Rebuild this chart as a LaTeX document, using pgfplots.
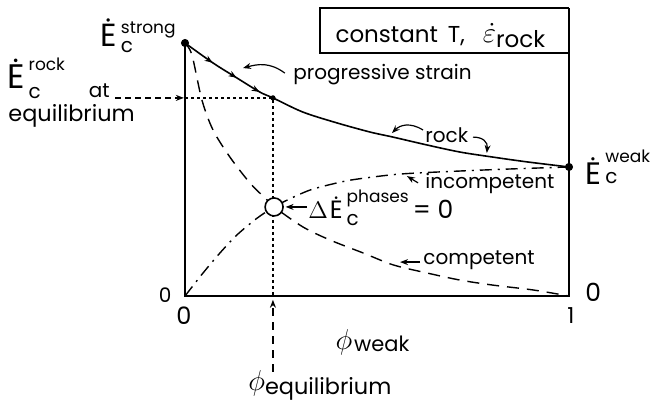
\documentclass[border=0pt]{standalone}
\usepackage{pgfplots}
\pgfplotsset{compat=1.18}
\usepackage{fontspec}
\setmainfont{Poppins}
\usetikzlibrary{arrows.meta,decorations.markings}

% E-dot with a sub- and superscript, sizes in pt
% #1 size of E, #2 superscript, #3 its raise, #4 subscript, #5 its raise
\newcommand{\Erate}[5]{%
  {\fontsize{#1}{#1}\selectfont\.{E}}\hspace{2pt}%
  \rlap{\raisebox{#3}{\fontsize{8.5}{9}\selectfont #2}}%
  \raisebox{#5}{\fontsize{10}{10}\selectfont #4}}

\begin{document}
\begin{tikzpicture}[>={Stealth[length=4pt,width=3pt]}]
\begin{axis}[
  scale only axis, width=328pt, height=204.5pt,
  xmin=-0.4818, xmax=1.2266, ymin=-0.4466, ymax=1.1700,
  hide axis, clip=false]

% frame: left, bottom and right sides, title box
\draw[line width=1.1pt] (axis cs:0,1) -- (axis cs:0,0) -- (axis cs:1,0) -- (axis cs:1,1.138);
\draw[line width=0.7pt] (axis cs:1,1.138) -- (axis cs:0.352,1.138) -- (axis cs:0.352,0.960) -- (axis cs:1,0.960);
\node[anchor=base west, font=\fontsize{11.5}{12}\selectfont, inner sep=0pt] at (axis cs:0.391,1.0)
  {constant\hspace{5pt}T,\hspace{9pt}{\fontsize{15}{15}\selectfont$\dot{\varepsilon}$}\raisebox{-2pt}{rock}};

% rock
\addplot[line width=0.8pt, smooth, postaction={decorate}, decoration={markings,
  mark=at position 0.083 with {\arrow{>}},
  mark=at position 0.152 with {\arrow{>}},
  mark=at position 0.218 with {\arrow{>}}}] coordinates {
  (0,1.0) (0.073,0.921) (0.135,0.862) (0.195,0.806) (0.229,0.783)
  (0.307,0.727) (0.396,0.684) (0.482,0.648) (0.542,0.628) (0.630,0.597)
  (0.716,0.569) (0.802,0.549) (0.891,0.530) (1.0,0.510)};
% competent
\addplot[line width=0.7pt, smooth, dash pattern=on 6pt off 4pt] coordinates {
  (0,1) (0.018,0.953) (0.044,0.775) (0.073,0.656) (0.117,0.549)
  (0.169,0.447) (0.214,0.379) (0.232,0.352) (0.307,0.273) (0.378,0.221)
  (0.464,0.170) (0.542,0.123) (0.630,0.091) (0.716,0.063) (0.802,0.043)
  (0.906,0.024) (1.0,0.0)};
% incompetent
\addplot[line width=0.7pt, smooth, dash pattern=on 6pt off 3pt on 1pt off 3pt] coordinates {
  (0,0) (0.047,0.091) (0.091,0.170) (0.135,0.241) (0.188,0.308)
  (0.232,0.352) (0.266,0.379) (0.326,0.419) (0.396,0.447) (0.448,0.462)
  (0.560,0.482) (0.716,0.494) (0.846,0.502) (1.0,0.510)};

% equilibrium guides
\draw[line width=0.7pt, dash pattern=on 1.5pt off 1.5pt] (axis cs:0,0.783) -- (axis cs:0.229,0.783) -- (axis cs:0.229,0);
\draw[line width=0.7pt, dash pattern=on 3pt off 2pt, ->] (axis cs:-0.182,0.783) -- (axis cs:-0.003,0.783);
\draw[line width=0.7pt, dash pattern=on 4pt off 3pt, ->] (axis cs:0.229,-0.300) -- (axis cs:0.229,-0.015);

% points
\addplot[only marks, mark=*, mark size=1.8pt] coordinates {(0,1) (1,0.510)};
\addplot[only marks, mark=*, mark size=1.1pt] coordinates {(0.229,0.783)};
\addplot[only marks, mark=*, mark size=4.5pt, mark options={fill=white, draw=black, line width=0.8pt}]
  coordinates {(0.232,0.352)};

% labels
\node[anchor=base west, inner sep=0pt] at (axis cs:-0.221,0.985)
  {\Erate{16}{strong}{6.5pt}{c}{-3pt}};
\node[anchor=base west, inner sep=0pt] at (axis cs:-0.464,0.822)
  {\Erate{17}{rock}{9pt}{c}{-5pt}\hspace{24pt}\raisebox{-4.5pt}{\fontsize{10}{10}\selectfont at}};
\node[anchor=base west, inner sep=0pt, font=\fontsize{11.2}{12}\selectfont] at (axis cs:-0.461,0.688) {equilibrium};
\node[anchor=base west, inner sep=0pt] at (axis cs:1.042,0.439)
  {\Erate{15.5}{weak}{11pt}{c}{0.5pt}};
\node[anchor=base west, inner sep=0pt] at (axis cs:0.320,0.308)
  {{\fontsize{12}{12}\selectfont$\Delta$}\hspace{1pt}\Erate{12.5}{phases}{8pt}{c}{-3.5pt}\hspace{27pt}{\fontsize{12.5}{12}\selectfont= 0}};

\node[anchor=base west, inner sep=0pt, font=\fontsize{10}{12}\selectfont] at (axis cs:0.281,0.854) {progressive strain};
\node[anchor=base west, inner sep=0pt, font=\fontsize{10}{12}\selectfont] at (axis cs:0.625,0.605) {rock};
\node[anchor=base west, inner sep=0pt, font=\fontsize{10}{12}\selectfont] at (axis cs:0.625,0.425) {incompetent};
\node[anchor=base west, inner sep=0pt, font=\fontsize{10}{12}\selectfont] at (axis cs:0.620,0.126) {competent};

\node[font=\fontsize{10}{10}\selectfont] at (axis cs:-0.052,0.004) {0};
\node[font=\fontsize{12}{12}\selectfont] at (axis cs:-0.003,-0.079) {0};
\node[font=\fontsize{11}{11}\selectfont] at (axis cs:1.005,-0.079) {1};
\node[font=\fontsize{12.5}{12}\selectfont] at (axis cs:1.063,0.016) {0};

\node[anchor=base west, inner sep=0pt] at (axis cs:0.391,-0.213)
  {{\fontsize{14}{14}\selectfont$\phi$}\hspace{1pt}\raisebox{-1pt}{\fontsize{10.5}{11}\selectfont weak}};
\node[anchor=base west, inner sep=0pt] at (axis cs:0.164,-0.375)
  {{\fontsize{14}{14}\selectfont$\phi$}\raisebox{-2pt}{\fontsize{11.2}{12}\selectfont equilibrium}};

% pointer arrows
\draw[line width=0.6pt, ->] (axis cs:0.260,0.881) .. controls (axis cs:0.221,0.925) and (axis cs:0.190,0.917) .. (axis cs:0.151,0.901);
\draw[line width=0.6pt, ->] (axis cs:0.620,0.656) .. controls (axis cs:0.586,0.688) and (axis cs:0.560,0.676) .. (axis cs:0.539,0.644);
\draw[line width=0.6pt, ->] (axis cs:0.750,0.628) .. controls (axis cs:0.776,0.628) and (axis cs:0.789,0.609) .. (axis cs:0.786,0.565);
\draw[line width=0.6pt, ->] (axis cs:0.607,0.447) -- (axis cs:0.578,0.474);
\draw[line width=0.6pt, ->] (axis cs:0.318,0.352) -- (axis cs:0.262,0.352);
\draw[line width=0.6pt, ->] (axis cs:0.612,0.134) -- (axis cs:0.560,0.134);
\end{axis}
\pgfresetboundingbox
\path[use as bounding box] (current axis.south west) rectangle (current axis.north east);
\end{tikzpicture}
\end{document}
